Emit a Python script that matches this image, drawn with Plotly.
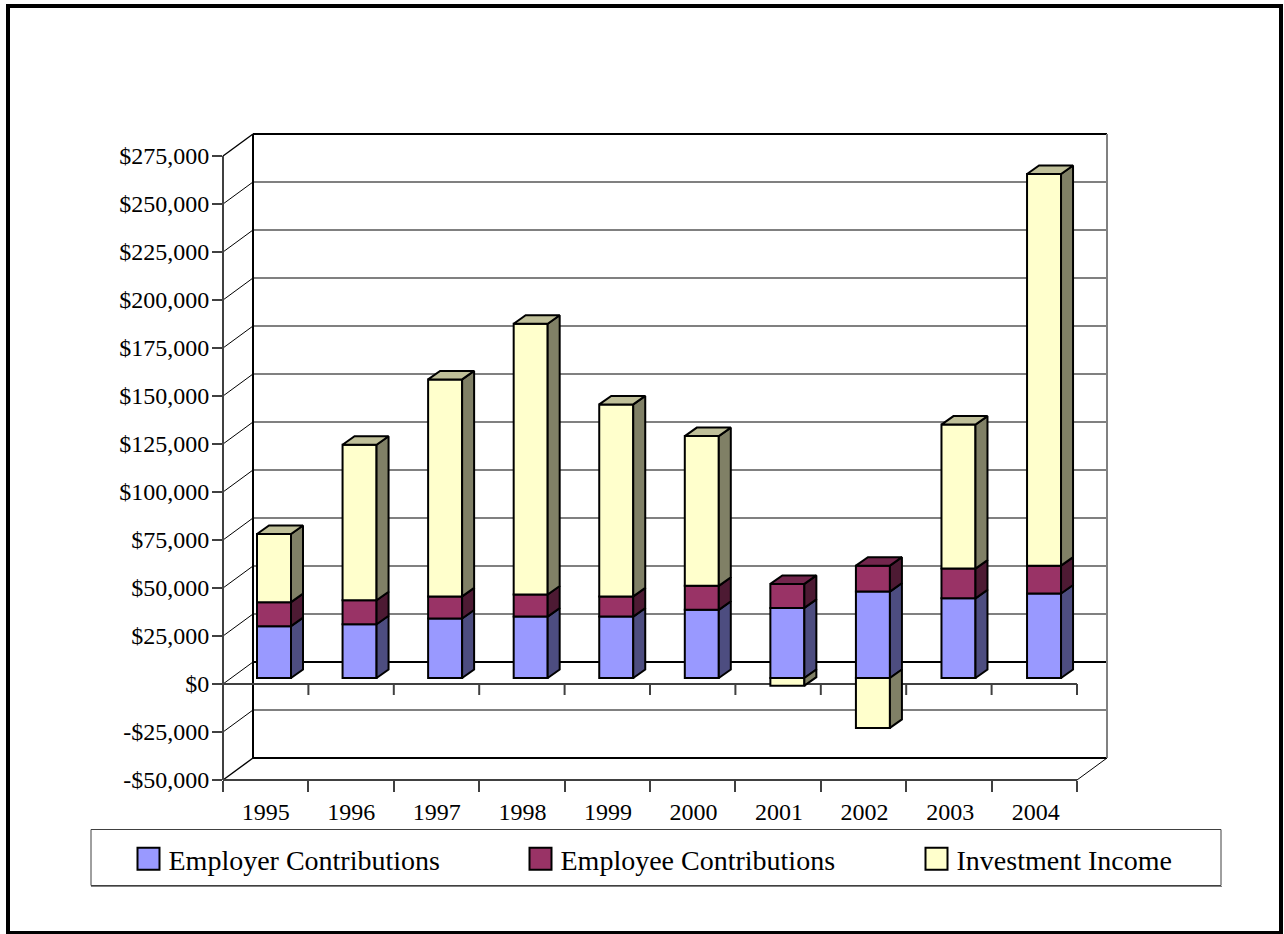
import plotly.graph_objects as go

# ---- data ----
years = ["1995", "1996", "1997", "1998", "1999", "2000", "2001", "2002", "2003", "2004"]
employer = [27000, 28000, 31000, 32000, 32000, 35500, 36500, 45000, 41500, 44000]
employee = [12500, 12500, 11500, 11500, 10500, 12500, 12500, 13500, 15500, 14500]
investment = [35500, 81000, 113000, 141000, 100000, 78000, -4000, -26000, 75000, 204000]
y_ticks = [-50000, -25000, 0, 25000, 50000, 75000, 100000, 125000, 150000, 175000, 200000, 225000, 250000, 275000]
y_labels = ["-$50,000", "-$25,000", "$0", "$25,000", "$50,000", "$75,000", "$100,000", "$125,000",
            "$150,000", "$175,000", "$200,000", "$225,000", "$250,000", "$275,000"]

# ---- geometry (pixels -> axis units) ----
W, H = 1284, 934
L, R, T, B = 223, 1107, 134, 780
PX_X = 85.4           # px per category
PX_Y = 48 / 25000     # px per dollar
STEP = 85.56 / PX_X   # spacing of the bars and labels along the category axis
wall_dx, wall_dy = 30 / PX_X, 22 / PX_Y
shift_x, shift_y = 8.3 / PX_X, 6 / PX_Y
bar_w = 34 / PX_X
dep_x, dep_y = 12 / PX_X, 8.5 / PX_Y
n = len(years)
x_max = (R - L) / PX_X
y_min, y_top = y_ticks[0], y_ticks[-1]
y_max = y_top + wall_dy
FONT = "Liberation Serif"
GRID, AXIS = "#808080", "#404040"

def px(v): return (v - L) / (R - L)
def py(v): return (B - v) / (B - T)
def dx(v): return v / x_max
def dy(v): return (v - y_min) / (y_max - y_min)

series = [
    ("Employer Contributions", employer, "#9999FF", "#4D4D80", "#73738F", 347),
    ("Employee Contributions", employee, "#993366", "#4D1A33", "#73264D", 351),
    ("Investment Income", investment, "#FFFFCC", "#808066", "#BFBF99", 240),
]

# stack: positive values pile up, negative go below zero
pos = [0] * n
neg = [0] * n
segments = []
for name, vals, c, side, top, lw in series:
    bases, tops = [], []
    for i, v in enumerate(vals):
        if v >= 0:
            bases.append(pos[i]); pos[i] += v
        else:
            bases.append(neg[i]); neg[i] += v
        tops.append(bases[-1] + v)
    segments.append((name, vals, bases, tops, c, side, top, lw))

fig = go.Figure()
label_pos = [0.5 + i * STEP for i in range(n)]
centres = [p + shift_x for p in label_pos]

# front faces
for name, vals, bases, tops, c, side, top, lw in segments:
    fig.add_trace(go.Bar(
        x=centres, y=vals, base=[b + shift_y for b in bases], width=bar_w, name=name,
        legendwidth=lw,
        marker=dict(color=c, line=dict(color="black", width=2)),
    ))

# right-hand faces
for name, vals, bases, tops, c, side, top, lw in segments:
    xs, ys = [], []
    for i in range(n):
        r = centres[i] + bar_w / 2
        a, b = bases[i] + shift_y, tops[i] + shift_y
        xs += [r, r + dep_x, r + dep_x, r, r, None]
        ys += [a, a + dep_y, b + dep_y, b, a, None]
    fig.add_trace(go.Scatter(x=xs, y=ys, mode="lines", fill="toself", fillcolor=side,
                             line=dict(color="black", width=2), showlegend=False, hoverinfo="skip"))

# top faces, only where a segment is the top of its stack
for name, vals, bases, tops, c, side, top, lw in segments:
    xs, ys = [], []
    for i in range(n):
        if vals[i] > 0 and tops[i] == pos[i]:
            l, r = centres[i] - bar_w / 2, centres[i] + bar_w / 2
            t = tops[i] + shift_y
            xs += [l, r, r + dep_x, l + dep_x, l, None]
            ys += [t, t, t + dep_y, t + dep_y, t, None]
    if xs:
        fig.add_trace(go.Scatter(x=xs, y=ys, mode="lines", fill="toself", fillcolor=top,
                                 line=dict(color="black", width=2), showlegend=False, hoverinfo="skip"))

shapes = []
def seg(x0, y0, x1, y1, color, width):
    # paper-referenced so that lines on the edge of the plot area are not clipped
    shapes.append(dict(type="line", xref="paper", yref="paper", x0=dx(x0), y0=dy(y0), x1=dx(x1), y1=dy(y1),
                       line=dict(color=color, width=width), layer="below"))

for t in y_ticks:
    edge = t in (y_min, 0, y_top)
    seg(wall_dx, t + wall_dy, n + wall_dx, t + wall_dy, "black" if edge else GRID, 2)
    seg(0, t, wall_dx, t + wall_dy, "black", 1.4 if t == y_min or t == y_top else 1)
seg(wall_dx, y_min + wall_dy, wall_dx, y_max, "black", 2)
seg(n + wall_dx, y_min + wall_dy, n + wall_dx, y_max, GRID, 2)
seg(n, y_min, n + wall_dx, y_min + wall_dy, "black", 1)
seg(0, y_min, 0, y_top, AXIS, 2)
seg(0, y_min, n, y_min, AXIS, 2)
seg(0, 0, n, 0, AXIS, 2)
for i in range(n + 1):
    seg(i, 0, i, -11 / PX_Y, AXIS, 2)

# outer frame and legend box
shapes.append(dict(type="rect", xref="paper", yref="paper", x0=px(8), x1=px(1281), y0=py(6), y1=py(933),
                   line=dict(color="black", width=4), layer="below"))
shapes.append(dict(type="rect", xref="paper", yref="paper", x0=px(91), x1=px(1221), y0=py(829.5), y1=py(885.5),
                   line=dict(color=AXIS, width=1), layer="below"))
shapes.append(dict(type="line", xref="paper", yref="paper", x0=px(91), x1=px(1222), y0=py(886.5), y1=py(886.5),
                   line=dict(color=GRID, width=1), layer="below"))

fig.update_layout(
    width=W, height=H, autosize=False,
    margin=dict(l=L, r=W - R, t=T, b=H - B, pad=0),
    paper_bgcolor="white", plot_bgcolor="rgba(0,0,0,0)",
    barmode="overlay", shapes=shapes,
    font=dict(family=FONT, color="black", size=24),
    xaxis=dict(range=[0, x_max], showgrid=False, zeroline=False, showline=False,
               tickmode="array", tickvals=label_pos, ticktext=years,
               ticks="outside", ticklen=10, tickcolor="rgba(0,0,0,0)", tickfont=dict(family=FONT, size=24),
               minor=dict(tickmode="array", tickvals=list(range(n + 1)), ticks="outside", ticklen=11,
                          tickwidth=2, tickcolor=AXIS, showgrid=False)),
    yaxis=dict(range=[y_min, y_max], showgrid=False, zeroline=False, showline=False,
               tickmode="array", tickvals=y_ticks, ticktext=y_labels,
               ticks="outside", ticklen=8, tickcolor="rgba(0,0,0,0)", tickfont=dict(family=FONT, size=24),
               minor=dict(tickmode="array", tickvals=y_ticks, ticks="outside", ticklen=10,
                          tickwidth=2, tickcolor=AXIS, showgrid=False)),
    legend=dict(orientation="h", x=px(128.5), xanchor="left", y=py(859), yanchor="middle",
                entrywidthmode="pixels", bgcolor="rgba(0,0,0,0)", borderwidth=0,
                font=dict(family=FONT, size=28), itemclick=False, itemdoubleclick=False,
                traceorder="normal"),
)

post = """
document.body.style.margin='0';
document.documentElement.style.overflow='hidden';
document.querySelectorAll('.legend .legendpoints path').forEach(function(p){
  p.setAttribute('d','M11,11H-11V-11H11Z');
});
"""
fig.write_html("out.html", post_script=post, config={"displayModeBar": False})
